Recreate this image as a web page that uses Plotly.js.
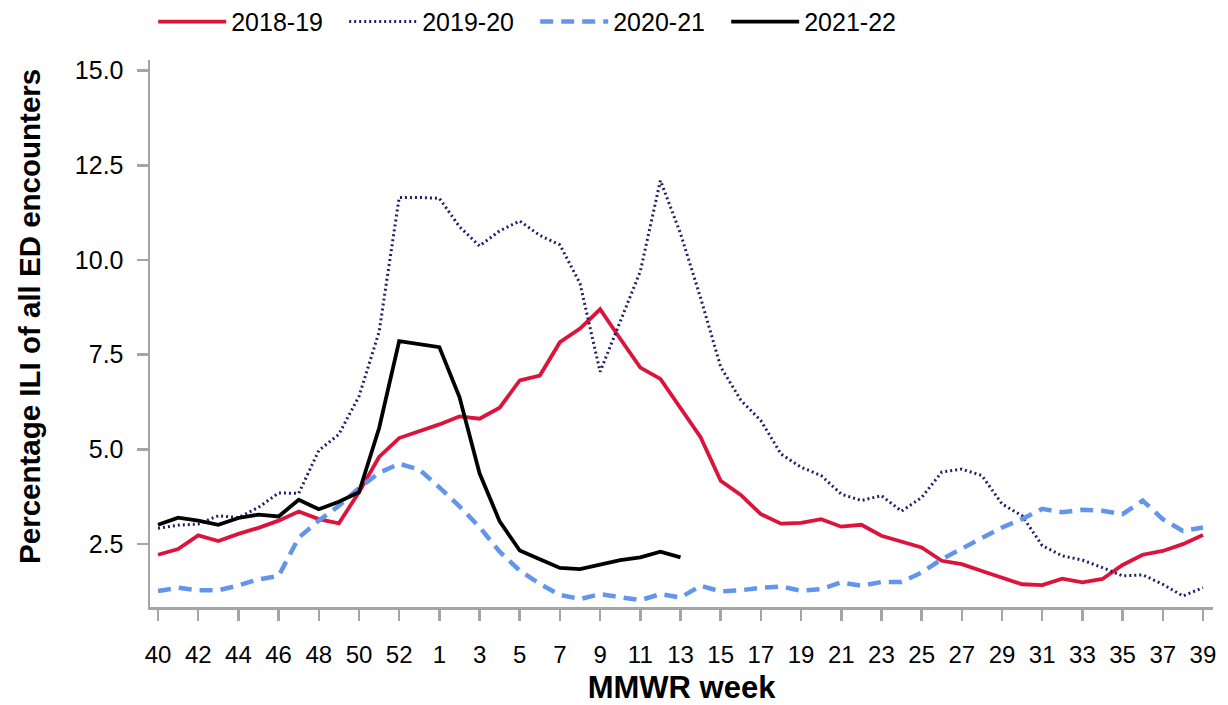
<!DOCTYPE html>
<html>
<head>
<meta charset="utf-8">
<script src="https://cdn.plot.ly/plotly-3.0.1.min.js"></script>
<style>html,body{margin:0;padding:0;background:#fff}#chart{width:1228px;height:705px}</style>
</head>
<body>
<div id="chart"></div>
<script>
// MMWR weeks (season includes week 53)
const weeks = ["40","41","42","43","44","45","46","47","48","49","50","51","52","53",
  "1","2","3","4","5","6","7","8","9","10","11","12","13","14","15","16","17","18","19",
  "20","21","22","23","24","25","26","27","28","29","30","31","32","33","34","35","36","37","38","39"];
const tickLabels = ["40","42","44","46","48","50","52","1","3","5","7","9","11","13","15","17","19",
  "21","23","25","27","29","31","33","35","37","39"];
const tickPositions = ["40","42","44","46","48","50","52","1","3","5","7","9","11","13","15","17","19",
  "21","23","25","27","29","31","33","35","37","39"];

const seasonNames = ["2018-19","2019-20","2020-21","2021-22"];

const s2018_19 = [2.22,2.37,2.73,2.58,2.77,2.93,3.12,3.36,3.16,3.05,3.87,4.80,5.30,5.48,
  5.66,5.87,5.81,6.10,6.82,6.95,7.83,8.19,8.70,7.92,7.16,6.86,6.07,5.32,4.17,3.80,3.29,3.04,3.06,
  3.16,2.96,3.01,2.72,2.57,2.41,2.06,1.97,1.79,1.62,1.44,1.42,1.59,1.49,1.58,1.95,2.22,2.32,2.50,2.74];
const s2019_20 = [2.92,3.00,3.03,3.25,3.20,3.47,3.85,3.84,4.97,5.40,6.40,8.10,11.65,11.65,
  11.63,10.88,10.37,10.77,11.03,10.65,10.40,9.38,7.05,8.40,9.70,12.10,10.70,9.00,7.18,6.30,5.76,4.88,4.53,
  4.31,3.82,3.65,3.78,3.37,3.73,4.40,4.48,4.31,3.56,3.25,2.46,2.19,2.08,1.88,1.66,1.69,1.44,1.13,1.35];
const s2020_21 = [1.26,1.35,1.28,1.28,1.41,1.57,1.66,2.67,3.12,3.51,3.98,4.38,4.62,4.47,
  4.00,3.50,2.95,2.30,1.80,1.45,1.16,1.05,1.18,1.11,1.02,1.18,1.09,1.40,1.25,1.28,1.35,1.38,1.27,
  1.31,1.49,1.40,1.50,1.50,1.75,2.10,2.37,2.64,2.94,3.16,3.43,3.34,3.41,3.38,3.29,3.65,3.16,2.85,2.94];
const s2021_22 = [3.01,3.20,3.12,3.01,3.19,3.28,3.23,3.67,3.42,3.62,3.87,5.56,7.86,7.79,
  7.70,6.38,4.37,3.10,2.33,2.10,1.87,1.84,1.95,2.08,2.15,2.30,2.15];

const yTicks = [2.5,5.0,7.5,10.0,12.5,15.0];

const axisGray = "#a3a5a8";
const font = "Liberation Sans, Arial, sans-serif";

const traces = [
  {x: weeks, y: s2018_19, name: seasonNames[0], mode: "lines",
   line: {color: "#dc143c", width: 3.8}},
  {x: weeks, y: s2019_20, name: seasonNames[1], mode: "lines",
   line: {color: "#1f1f6b", width: 3, dash: "2px,3px"}},
  {x: weeks, y: s2020_21, name: seasonNames[2], mode: "lines",
   line: {color: "#6495ed", width: 4.5, dash: "13px,8px"}},
  {x: weeks.slice(0, s2021_22.length), y: s2021_22, name: seasonNames[3], mode: "lines",
   line: {color: "#000000", width: 3.8}}
];

const layout = {
  width: 1228, height: 705,
  margin: {l: 150, r: 15, t: 60, b: 98},
  paper_bgcolor: "#fff", plot_bgcolor: "#fff",
  font: {family: font, size: 25, color: "#000"},
  showlegend: true,
  legend: {orientation: "h", x: 0.003, xanchor: "left", y: 0.969, yanchor: "middle",
    xref: "paper", yref: "container", font: {size: 25}, itemwidth: 68,
    entrywidth: 108, entrywidthmode: "pixels", traceorder: "normal",
    bgcolor: "rgba(0,0,0,0)"},
  xaxis: {
    type: "category", categoryorder: "array", categoryarray: weeks,
    range: [-0.4, 52.5],
    tickmode: "array", tickvals: tickPositions, ticktext: tickLabels,
    showgrid: false, zeroline: false,
    showline: true, linecolor: axisGray, linewidth: 2.5,
    ticks: "outside", ticklen: 11, tickwidth: 2.5, tickcolor: axisGray,
    tickfont: {size: 24}, ticklabelstandoff: 14,
    title: {text: "<b>MMWR week</b>", font: {size: 31}, standoff: 18}
  },
  yaxis: {
    range: [0.84, 15.28],
    tickmode: "array", tickvals: yTicks, tickformat: ".1f",
    showgrid: false, zeroline: false,
    showline: true, linecolor: axisGray, linewidth: 2.5,
    ticks: "outside", ticklen: 11, tickwidth: 2.5, tickcolor: axisGray,
    tickfont: {size: 25}, ticklabelstandoff: 8
  },
  annotations: [{
    text: "<b>Percentage ILI of all ED encounters</b>",
    xref: "paper", yref: "paper", x: -0.113, y: 0.532,
    xanchor: "center", yanchor: "middle", textangle: -90,
    showarrow: false, font: {size: 29.5, color: "#000"}
  }]
};

Plotly.newPlot("chart", traces, layout, {displayModeBar: false, staticPlot: true});
</script>
</body>
</html>
